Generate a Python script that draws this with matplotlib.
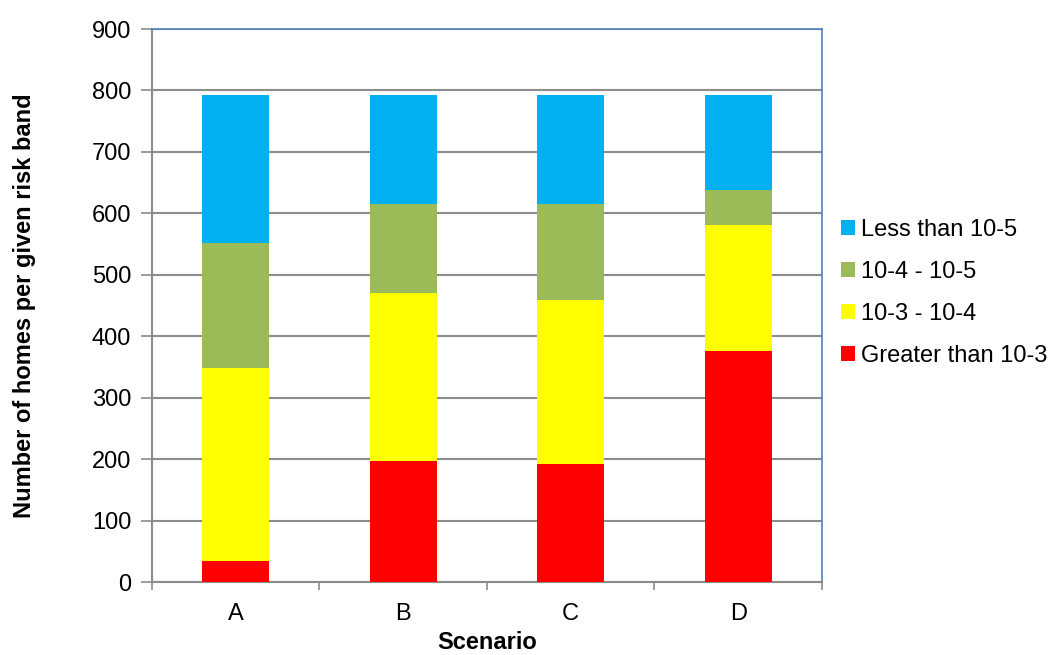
import numpy as np
import matplotlib
matplotlib.use('Agg')
import matplotlib.pyplot as plt
from matplotlib.patches import Patch

plt.rcParams['font.family'] = ['Liberation Sans', 'DejaVu Sans']

scenarios = ['A', 'B', 'C', 'D']
greater_1e3 = [35, 197, 192, 377]
band_1e3_1e4 = [314, 274, 268, 204]
band_1e4_1e5 = [203, 145, 155, 57]
less_1e5 = [240, 176, 177, 154]

labels = ['Greater than 10-3', '10-3 - 10-4', '10-4 - 10-5', 'Less than 10-5']
colors = ['#FF0000', '#FFFF00', '#9BBB59', '#00B0F0']
series = [greater_1e3, band_1e3_1e4, band_1e4_1e5, less_1e5]

fig = plt.figure(figsize=(10.49, 6.55), dpi=100)
ax = fig.add_axes([0.1449, 0.111, 0.6387, 0.8447])

x = np.arange(len(scenarios))
bottom = np.zeros(len(scenarios))
for vals, col, lab in zip(series, colors, labels):
    ax.bar(x, vals, 0.4, bottom=bottom, color=col, label=lab, zorder=3)
    bottom += np.array(vals)

ax.set_xlim(-0.5, 3.5)
ax.set_ylim(0, 900)
ax.set_yticks(np.arange(0, 901, 100))
ax.yaxis.grid(True, color='#8C8C8C', linewidth=1.5, zorder=0)
ax.set_axisbelow(True)

ax.set_xticks(x)
ax.set_xticklabels(scenarios)
ax.set_xticks(np.arange(-0.5, 3.6, 1), minor=True)
ax.tick_params(axis='x', which='major', length=0, pad=15, labelsize=17)
ax.tick_params(axis='x', which='minor', length=6, width=1.2, color='#8C8C8C', direction='out')
ax.tick_params(axis='y', length=8, width=1.2, color='#8C8C8C', labelsize=17, pad=7)

for s in ['left', 'bottom']:
    ax.spines[s].set_color('#8C8C8C')
    ax.spines[s].set_linewidth(1.5)
for s in ['top', 'right']:
    ax.spines[s].set_color('#4F81BD')
    ax.spines[s].set_linewidth(1.2)

ax.set_xlabel('Scenario', fontsize=17, fontweight='bold', labelpad=4)
ax.set_ylabel('Number of homes per given risk band', fontsize=17, fontweight='bold', labelpad=40)

handles = [Patch(facecolor=c, label=l) for c, l in zip(colors, labels)][::-1]
fig.legend(handles=handles, loc='center left', bbox_to_anchor=(0.8017, 0.553),
           frameon=False, fontsize=17, handlelength=0.58, handleheight=0.58,
           handletextpad=0.27, labelspacing=0.85, borderaxespad=0, borderpad=0)

fig.savefig('out.png', dpi=100)
